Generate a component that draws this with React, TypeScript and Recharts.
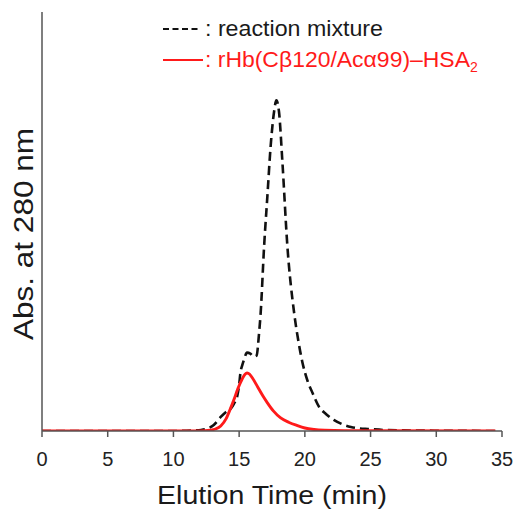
import React from "react";
import { LineChart, Line, XAxis, YAxis } from "recharts";

// Elution profile: reaction mixture (black dashed)
const mixtureTime = [0, 5, 10, 11.5, 12.1, 12.6, 13.07, 13.6, 14.0, 14.35, 14.6, 14.86, 15.0, 15.1, 15.25, 15.37, 15.6, 15.85, 16.1, 16.33, 16.5, 16.64, 16.9, 17.15, 17.4, 17.66, 17.83, 18.03, 18.29, 18.67, 19.18, 19.5, 19.82, 20.2, 20.58, 21.08, 21.6, 22.2, 22.8, 23.5, 24.2, 24.8, 26, 28, 30, 34.5];
const mixtureAbs = [0, 0, 0, 0.5, 1, 2.5, 6, 14, 19, 22, 27, 35, 46, 58, 66, 71, 78, 77, 74, 75, 95, 118, 184, 234, 284, 318, 329, 318, 268, 184, 118, 90, 68, 50, 38, 24, 17, 11, 7, 4, 2.5, 2, 1, 0.5, 0.3, 0];

// Purified rHb(Cβ120/Acα99)–HSA2 (red solid)
const hsaTime = [0, 12, 12.8, 13.2, 13.6, 14.0, 14.3, 14.6, 14.9, 15.24, 15.45, 15.6, 15.8, 16.0, 16.4, 16.8, 17.15, 17.6, 18.16, 18.8, 19.4, 20.0, 20.7, 21.5, 23, 34.5];
const hsaAbs = [0, 0, 0.8, 2, 5, 12, 21, 31, 42, 52, 56.5, 57.7, 56.5, 53, 44, 35, 28, 20, 13, 8.5, 5.5, 3, 1.5, 0.7, 0.2, 0];

const xTicks = [0, 5, 10, 15, 20, 25, 30, 35];
const xTitle = "Elution Time (min)";
const yTitle = "Abs. at 280 nm";
const legendMixture = ": reaction mixture";
const legendHsa = ": rHb(Cβ120/Acα99)–HSA";
const legendHsaSub = "2";

const mixtureData = mixtureTime.map((t, i) => ({ t, v: mixtureAbs[i] }));
const hsaData = hsaTime.map((t, i) => ({ t, v: hsaAbs[i] }));

const FONT = "Arial, 'Liberation Sans', sans-serif";
const RED = "#ff1a1a";

export default function App() {
  return (
    <div style={{ position: "absolute", left: 0, top: 0, width: 519, height: 511, background: "#fff" }}>
      <LineChart width={519} height={511} margin={{ top: 12, right: 17, left: 41, bottom: 0 }}>
        <XAxis
          type="number"
          dataKey="t"
          domain={[0, 35]}
          ticks={xTicks}
          allowDataOverflow
          height={80}
          tickSize={6}
          tickMargin={15}
          stroke="#555"
          strokeWidth={1.5}
          tick={{ fontSize: 20, fill: "#222", fontFamily: FONT }}
          tickLine={{ stroke: "#555", strokeWidth: 1.5 }}
        />
        <YAxis
          type="number"
          domain={[0, 417]}
          width={1}
          tick={false}
          tickLine={false}
          axisLine={{ stroke: "#555", strokeWidth: 1.5 }}
          allowDataOverflow
        />
        <Line
          data={mixtureData}
          dataKey="v"
          name="reaction mixture"
          type="monotone"
          stroke="#111"
          strokeWidth={2.6}
          strokeDasharray="9 5"
          dot={false}
          isAnimationActive={false}
        />
        <Line
          data={hsaData}
          dataKey="v"
          name="rHb(Cβ120/Acα99)–HSA2"
          type="monotone"
          stroke={RED}
          strokeWidth={2.9}
          dot={false}
          isAnimationActive={false}
        />
        <g className="legend">
          <line x1={163} y1={29} x2={200} y2={29} stroke="#111" strokeWidth={2} strokeDasharray="6 3.5" />
          <text x={205} y={36} fontFamily={FONT} fontSize={22} fill="#1a1a1a" textLength={178} lengthAdjust="spacingAndGlyphs">
            {legendMixture}
          </text>
          <line x1={163} y1={60} x2={203} y2={60} stroke={RED} strokeWidth={2} />
          <text x={205} y={67} fontFamily={FONT} fontSize={22} fill={RED}>
            <tspan textLength={265} lengthAdjust="spacingAndGlyphs">{legendHsa}</tspan>
            <tspan fontSize={14} dy={5}>{legendHsaSub}</tspan>
          </text>
        </g>
        <text x={272} y={504} textAnchor="middle" fontFamily={FONT} fontSize={26} fill="#1a1a1a" textLength={230} lengthAdjust="spacingAndGlyphs">
          {xTitle}
        </text>
        <text x={33} y={234} transform="rotate(-90, 33, 234)" textAnchor="middle" fontFamily={FONT} fontSize={27} fill="#1a1a1a" textLength={212} lengthAdjust="spacingAndGlyphs">
          {yTitle}
        </text>
      </LineChart>
    </div>
  );
}
